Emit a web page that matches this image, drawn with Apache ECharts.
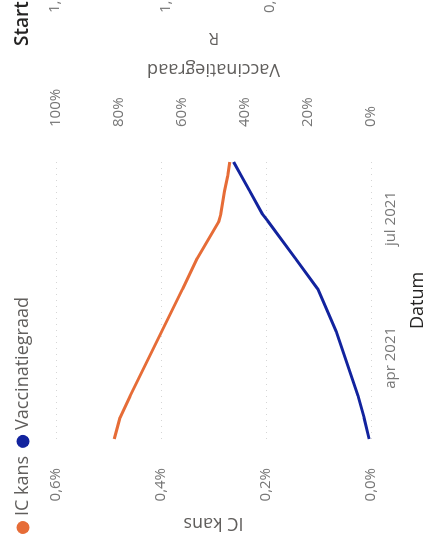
<!DOCTYPE html>
<html>
<head>
<meta charset="utf-8">
<script src="https://cdn.jsdelivr.net/npm/echarts@6/dist/echarts.min.js"></script>
<style>
  html, body { margin: 0; padding: 0; background: #fff; overflow: hidden; }
  /* the photo shows the screen turned a quarter turn, so the chart is drawn upright and rotated */
  #wrap {
    position: absolute; left: 0; top: 0;
    width: 549px; height: 432px;
    transform-origin: 0 0;
    transform: translate(0, 549px) rotate(-90deg);
  }
  #chart { width: 549px; height: 432px; }
</style>
</head>
<body>
<div id="wrap"><div id="chart"></div></div>
<script>
// data
let dates = ['2021-02-07', '2021-02-21', '2021-03-07', '2021-04-18', '2021-05-16', '2021-06-05',
             '2021-06-29', '2021-07-04', '2021-07-19', '2021-07-29', '2021-08-07']
let icKans = [0.489, 0.478, 0.459, 0.399, 0.359, 0.331, 0.290, 0.286, 0.279, 0.273, 0.269]
let vaccinatiegraad = [0.6, 2.2, 4.1, 11.0, 16.9, 24.0, 32.6, 34.5, 38.5, 41.2, 43.6]
let icTicks = [0, 0.2, 0.4, 0.6]
let vacTicks = [0, 20, 40, 60, 80, 100]
let maanden = ['jan', 'feb', 'mrt', 'apr', 'mei', 'jun', 'jul', 'aug', 'sep', 'okt', 'nov', 'dec']

let font = "'Segoe UI', 'Open Sans', sans-serif"
let orange = '#E66C37'
let blue = '#12239E'

let myChart = echarts.init(document.getElementById('chart'))
let option = {
  backgroundColor: '#fff',
  textStyle: { fontFamily: font },
  animation: false,
  legend: {
    left: 10,
    top: 9,
    icon: 'circle',
    itemWidth: 13,
    itemHeight: 13,
    itemGap: 8,
    textStyle: { fontSize: 18, color: '#605E5C', fontFamily: font },
    data: ['IC kans', 'Vaccinatiegraad']
  },
  grid: { left: 110, right: 162, top: 56, bottom: 55 },
  xAxis: {
    type: 'time',
    min: dates[0],
    max: dates[dates.length - 1],
    name: 'Datum',
    nameLocation: 'middle',
    nameGap: 38,
    nameTextStyle: { fontSize: 18, color: '#252423', fontFamily: font },
    maxInterval: 31 * 24 * 3600 * 1000,
    splitNumber: 8,
    axisLine: { show: false },
    axisTick: { show: false },
    splitLine: { show: false },
    axisLabel: {
      fontSize: 15,
      color: '#777',
      margin: 12,
      hideOverlap: false,
      formatter: function (val) {
        let d = new Date(val)
        if (d.getDate() === 1 && d.getMonth() % 3 === 0) {
          return maanden[d.getMonth()] + ' ' + d.getFullYear()
        }
        return ''
      }
    }
  },
  yAxis: [
    {
      type: 'value',
      min: icTicks[0],
      max: icTicks[icTicks.length - 1],
      interval: 0.2,
      name: 'IC kans',
      nameLocation: 'middle',
      nameGap: 75,
      nameTextStyle: { fontSize: 18, color: '#605E5C', fontFamily: font },
      axisLine: { show: false },
      axisTick: { show: false },
      axisLabel: {
        fontSize: 15,
        color: '#777',
        margin: 29,
        formatter: function (v) { return v.toFixed(1).replace('.', ',') + '%' }
      },
      splitLine: { show: true, lineStyle: { color: '#d6d6d6', type: [1, 5], width: 1 } }
    },
    {
      type: 'value',
      position: 'right',
      min: vacTicks[0],
      max: vacTicks[vacTicks.length - 1],
      interval: 20,
      name: 'Vaccinatiegraad',
      nameLocation: 'middle',
      nameGap: 84,
      nameTextStyle: { fontSize: 18, color: '#605E5C', fontFamily: font },
      axisLine: { show: false },
      axisTick: { show: false },
      axisLabel: {
        fontSize: 15,
        color: '#777',
        margin: 35,
        formatter: '{value}%'
      },
      splitLine: { show: false }
    }
  ],
  series: [
    {
      name: 'IC kans',
      type: 'line',
      yAxisIndex: 0,
      showSymbol: false,
      symbol: 'circle',
      color: orange,
      lineStyle: { width: 3, color: orange },
      data: dates.map(function (d, i) { return [d, icKans[i]] })
    },
    {
      name: 'Vaccinatiegraad',
      type: 'line',
      yAxisIndex: 1,
      showSymbol: false,
      symbol: 'circle',
      color: blue,
      lineStyle: { width: 3, color: blue },
      data: dates.map(function (d, i) { return [d, vaccinatiegraad[i]] })
    }
  ],
  // bits of the neighbouring visual that show at the edge of the photo
  graphic: [
    { type: 'text', left: 503, top: 13, style: { text: 'Start', fontSize: 19, fontWeight: 600, fill: '#252423', fontFamily: font } },
    { type: 'text', x: 536, y: 55, style: { text: '1,2', fontSize: 15, fill: '#777', fontFamily: font, verticalAlign: 'middle' } },
    { type: 'text', x: 536, y: 166, style: { text: '1,0', fontSize: 15, fill: '#777', fontFamily: font, verticalAlign: 'middle' } },
    { type: 'text', x: 536, y: 270, style: { text: '0,8', fontSize: 15, fill: '#777', fontFamily: font, verticalAlign: 'middle' } },
    { type: 'text', x: 511, y: 214, rotation: Math.PI / 2, style: { text: 'R', fontSize: 17, fill: '#605E5C', fontFamily: font, align: 'center', verticalAlign: 'middle' } }
  ]
}
myChart.setOption(option)
</script>
</body>
</html>
